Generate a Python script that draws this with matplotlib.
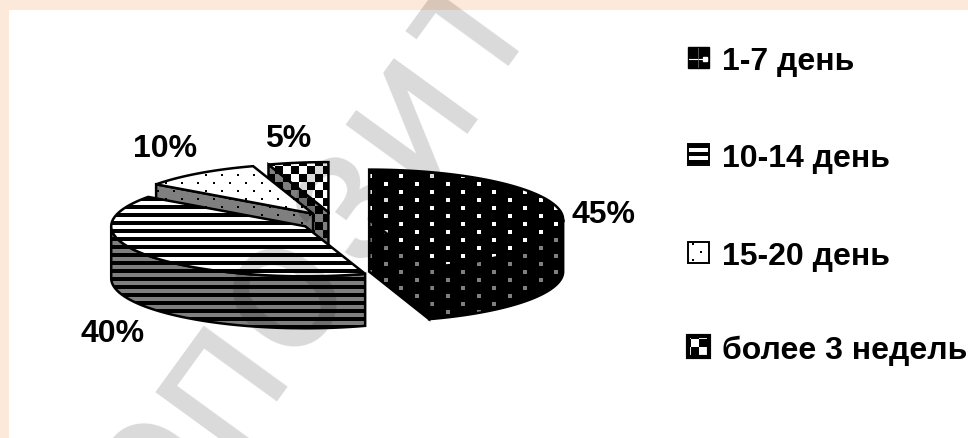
import numpy as np
import matplotlib
matplotlib.use('Agg')
import matplotlib.pyplot as plt
from matplotlib.patches import Polygon, Rectangle

W, H = 968, 439

# данные диаграммы
labels = ['1-7 день', '10-14 день', '15-20 день', 'более 3 недель']
values = [45, 40, 10, 5]
pct_labels = ['45%', '40%', '10%', '5%']
fills = ['dots_big', 'stripes', 'dots_small', 'check']
pct_x = [604, 113, 165, 288]
pct_y = [223, 342, 157, 147]
legend_base = [70, 167, 265, 359]

# водяной знак, буквы по одной (центры букв)
wm_letters = ['О', 'П', 'О', 'З', 'И', 'Т', 'О']
wm_x = [150, 216, 281, 346, 406, 469, 534]
wm_y = [466, 379, 291, 202, 112, 24, -64]
wm_angle = 54
wm_cap = 108

# геометрия псевдо-3D круга
cx, cy = 334, 222
a, b = 194, 50
depth = 52
explode_x, explode_y = 35.6, 9

plt.rcParams['font.family'] = ['Liberation Sans', 'DejaVu Sans']

WHITE = (1, 1, 1)
BLACK = (0, 0, 0)
GREY = (0.5, 0.5, 0.5)


def pattern(kind, fg, bg, dx=0, dy=0):
    yy, xx = np.mgrid[0:H, 0:W]
    xx = xx - dx
    yy = yy - dy
    if kind == 'dots_big':
        row = np.floor((yy - 175) / 8).astype(int)
        mask = ((xx - 399 + 15.5 * (row % 2)) % 31 < 4) & ((yy - 175) % 8 < 4)
    elif kind == 'dots_small':
        row = np.floor((yy - 183) / 8).astype(int)
        mask = ((xx - 261 + 8 * (row % 2)) % 16 < 2) & ((yy - 183) % 8 < 2)
    elif kind == 'stripes':
        mask = (yy - 206) % 8 < 3.5
    else:
        mask = (((xx - 283) // 8 + (yy - 167) // 8) % 2).astype(bool)
    img = np.empty((H, W, 3))
    img[:] = bg
    img[mask] = fg
    return img


def textured(ax, pts, kind, fg, bg, z, lw=1.8, dx=0, dy=0):
    poly = Polygon(pts, closed=True, facecolor='none', edgecolor='black',
                   linewidth=lw, joinstyle='miter', zorder=z + 0.5)
    ax.add_patch(poly)
    im = ax.imshow(pattern(kind, fg, bg, dx, dy), extent=(0, W, H, 0), aspect='auto',
                   interpolation='nearest', zorder=z)
    im.set_clip_path(Polygon(pts, closed=True, transform=ax.transData))


def rim(c, t0, t1):
    th = np.radians(np.linspace(t0, t1, 80))
    return np.column_stack([c[0] + a * np.sin(th), c[1] - b * np.cos(th)])


fig = plt.figure(figsize=(W / 100, H / 100), dpi=100, facecolor='#FDE9D9')
ax = fig.add_axes([0, 0, 1, 1])
ax.axis('off')

# белое поле внутри рамки
ax.add_patch(Rectangle((9, 11), W, H, facecolor='white', edgecolor='none', zorder=0))

ends = np.cumsum(values) * 3.6
starts = ends - np.array(values) * 3.6

z = 1
# дальние секторы рисуем первыми
for i in range(len(values) - 1, -1, -1):
    s, e = starts[i], ends[i]
    mid = np.radians((s + e) / 2)
    c = np.array([cx + explode_x * np.sin(mid), cy - explode_y * np.cos(mid)])
    down = np.array([0, depth])
    top = rim(c, s, e)
    if i == 0:
        side_fg, side_bg, top_fg, top_bg = GREY, BLACK, WHITE, BLACK
    else:
        side_fg, side_bg, top_fg, top_bg = BLACK, GREY, BLACK, WHITE

    # срезы сектора
    for ang, visible in ((s, np.sin(np.radians(s)) < -1e-6), (e, np.sin(np.radians(e)) > 1e-6)):
        if visible:
            p = rim(c, ang, ang)[0]
            textured(ax, [c, p, p + down, c + down], fills[i], side_fg, side_bg, z)
            z += 1
    # внешняя стенка, только передняя половина
    w0, w1 = max(s, 90), min(e, 270)
    if w0 < w1:
        r = rim(c, w0, w1)
        textured(ax, np.vstack([r, (r + down)[::-1]]), fills[i], side_fg, side_bg, z)
        z += 1
    # верхняя грань
    textured(ax, np.vstack([c, top]), fills[i], top_fg, top_bg, z)
    z += 1

# подписи процентов
for t, x, y in zip(pct_labels, pct_x, pct_y):
    ax.text(x, y, t, ha='center', va='baseline', fontsize=23, fontweight='bold',
            color='black', zorder=z + 3)

# легенда
sw = 21
x0 = 688
for i, base in enumerate(legend_base):
    y0 = base - sw - 1
    pts = [(x0, y0), (x0 + sw, y0), (x0 + sw, y0 + sw), (x0, y0 + sw)]
    if i == 0:
        ax.add_patch(Rectangle((x0, y0), sw, sw, facecolor='black', edgecolor='black', zorder=z))
        ax.plot([x0 + 1, x0 + 15], [y0 + 12, y0 + 12], color='white', lw=0.8, zorder=z + 1)
        ax.plot([x0 + 10, x0 + 10], [y0 + 1, y0 + 20], color='#777777', lw=0.5, zorder=z + 1)
        ax.plot([x0 + 17], [y0 + 12], marker='s', ms=2.8, color='white', zorder=z + 1)
    elif i == 1:
        textured(ax, pts, fills[i], WHITE, BLACK, z, lw=1.4, dy=y0 + 4 - 206)
    elif i == 2:
        textured(ax, pts, fills[i], BLACK, WHITE, z, lw=1.4, dx=x0 + 12 - 261, dy=y0 + 9 - 183)
    else:
        textured(ax, pts, fills[i], BLACK, WHITE, z, lw=3, dx=x0 + 3 - 283, dy=y0 + 3 - 167)
    z += 2
    ax.text(722, base, labels[i], ha='left', va='baseline', fontsize=23,
            fontweight='bold', color='black', zorder=z + 3)

# водяной знак поверх всего
rad = np.radians(wm_angle)
for ch, x, y in zip(wm_letters, wm_x, wm_y):
    ax.text(x + np.sin(rad) * wm_cap / 2, y + np.cos(rad) * wm_cap / 2, ch,
            rotation=wm_angle, rotation_mode='anchor', ha='center', va='baseline',
            family='Roboto', fontweight='medium',
            fontsize=106, color='black', alpha=0.15, zorder=z + 2, clip_on=False)

ax.set_xlim(0, W)
ax.set_ylim(H, 0)
fig.savefig('out.png', dpi=100, facecolor=fig.get_facecolor())
